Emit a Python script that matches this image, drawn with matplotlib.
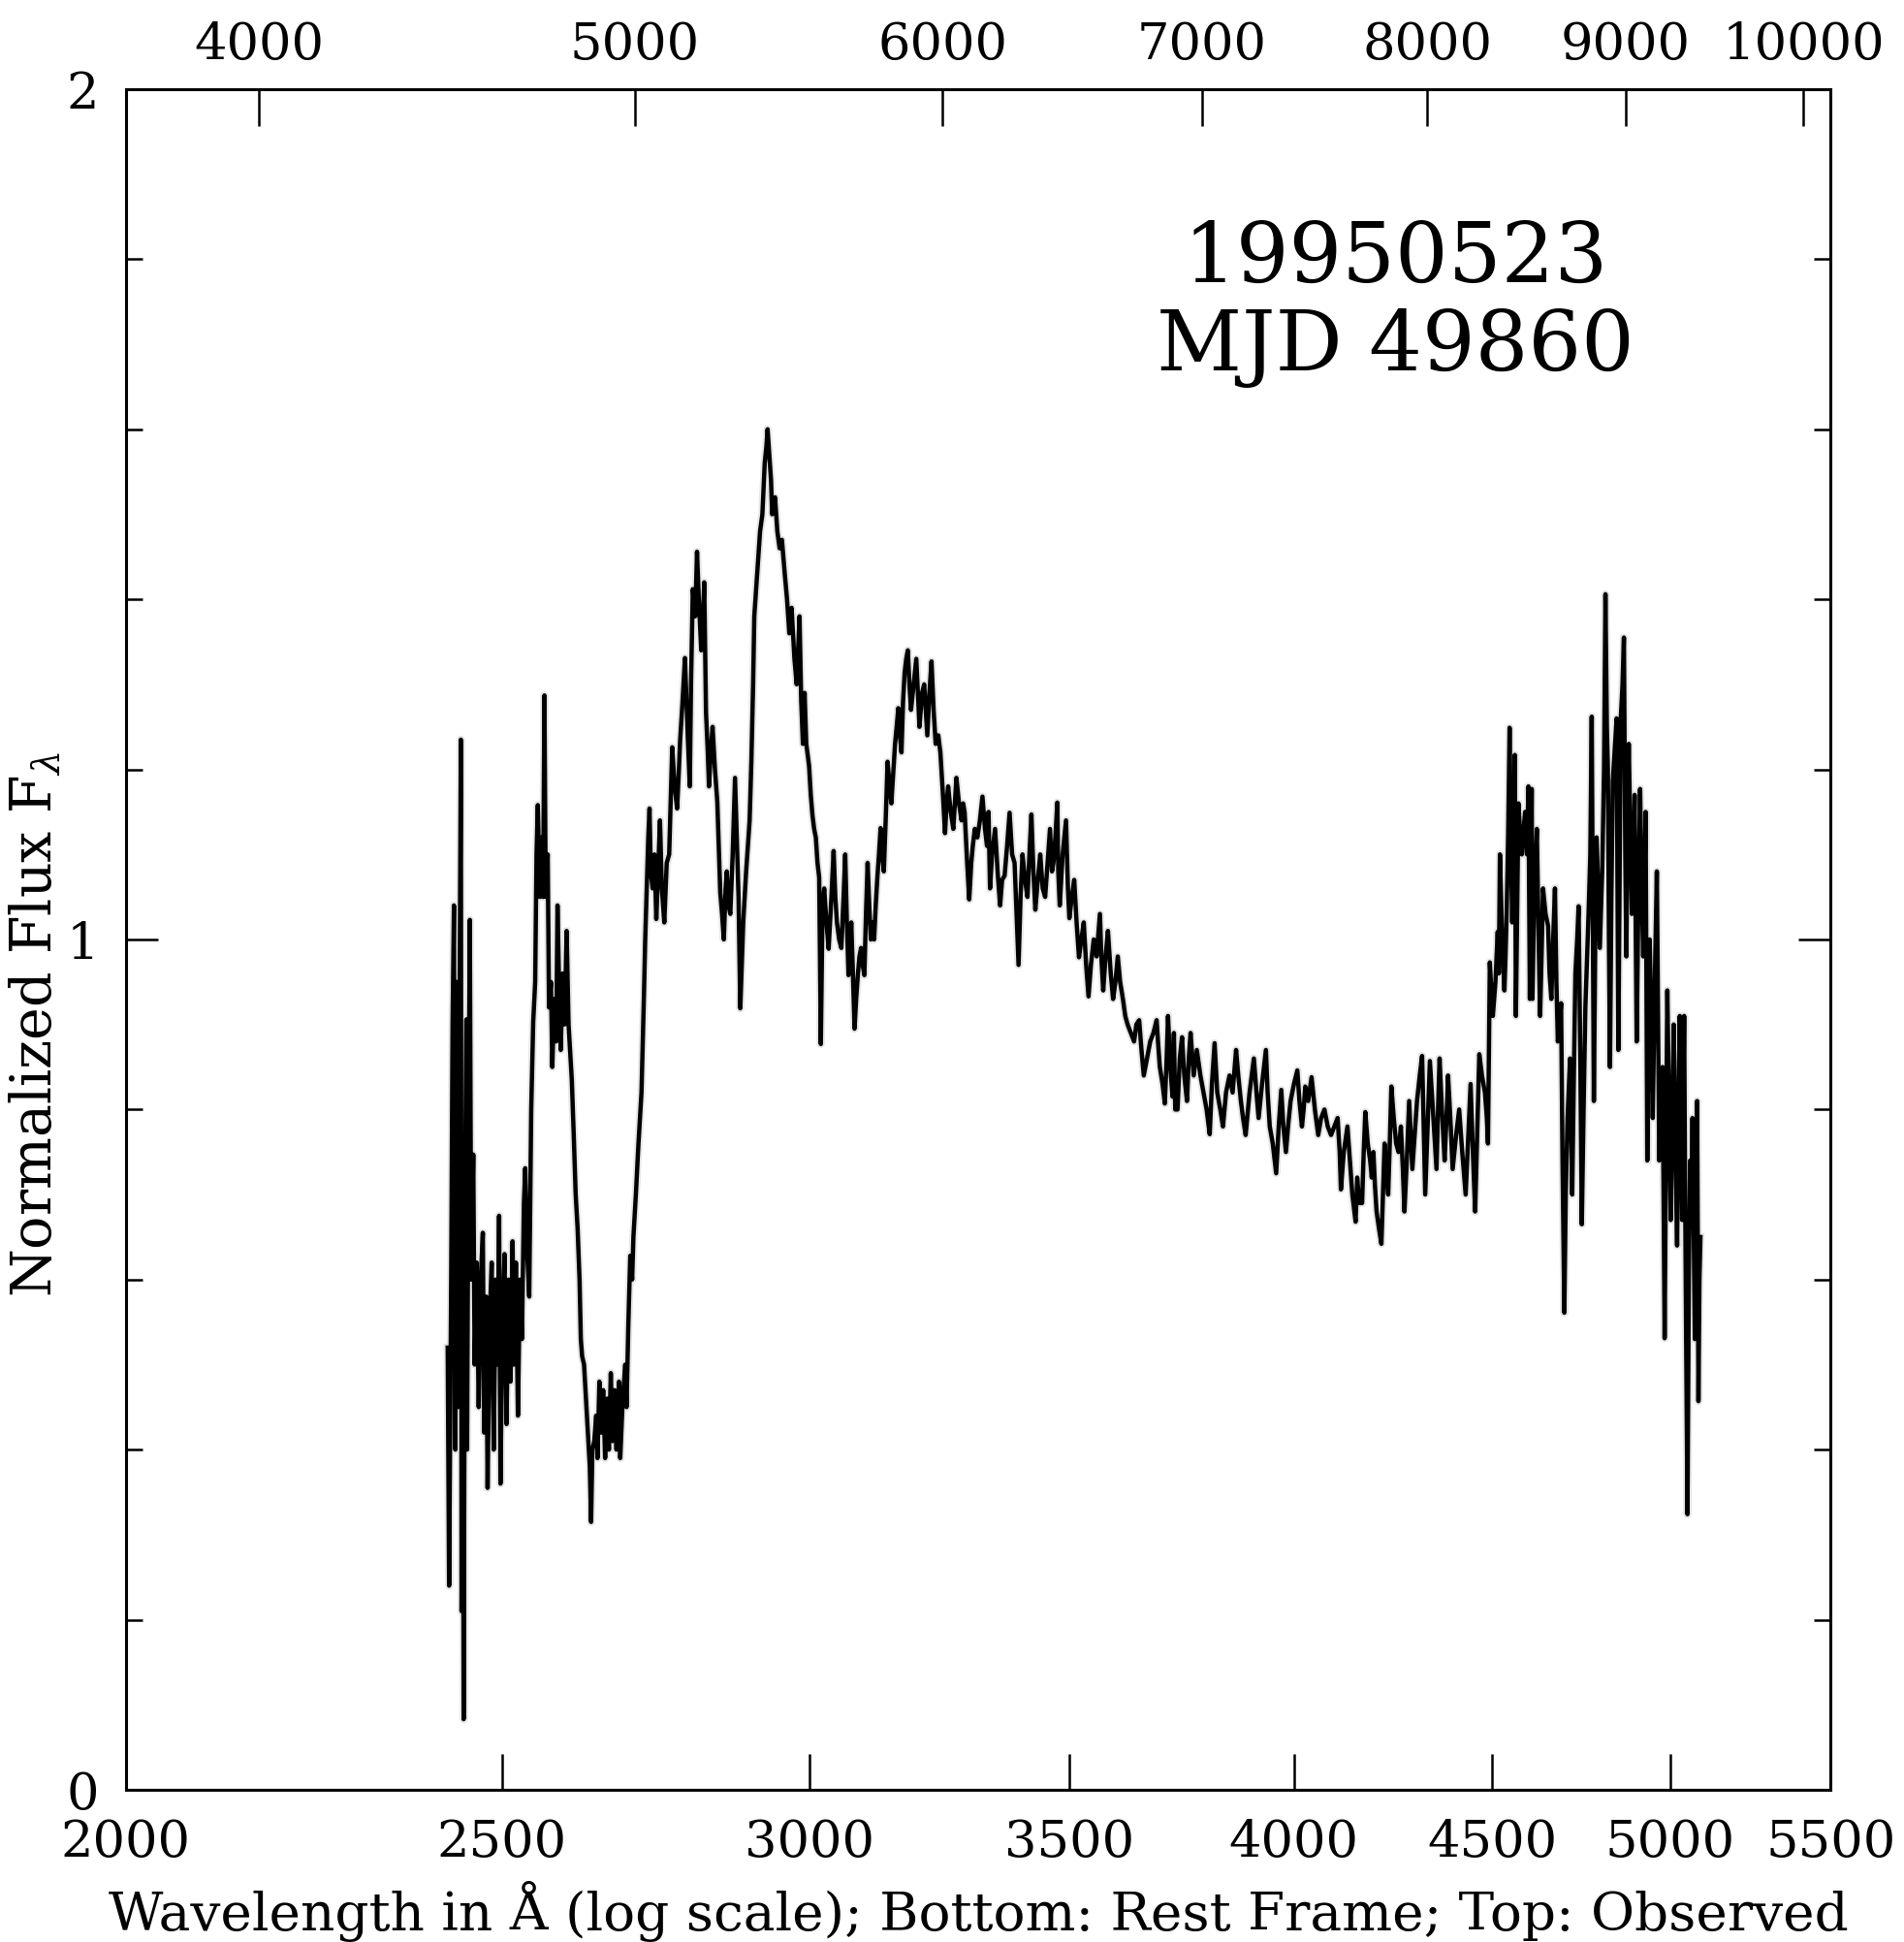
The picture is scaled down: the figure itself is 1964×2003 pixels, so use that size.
import matplotlib
matplotlib.use("Agg")
import matplotlib.pyplot as plt
from matplotlib.ticker import FixedLocator, FixedFormatter, MultipleLocator, NullLocator
import numpy as np

plt.rcParams["font.family"] = ["DejaVu Serif"]
plt.rcParams["mathtext.fontset"] = "dejavuserif"

# observed = rest * (1 + z)
z = 0.848

# rest-frame wavelength (Angstrom) and normalized flux
wave = np.array([
    2421, 2423, 2426, 2428, 2430, 2432, 2434, 2436, 2438, 2440, 2441, 2443, 2444, 2446, 2448, 2449,
    2451, 2453, 2455, 2458, 2460, 2463, 2466, 2469, 2472, 2474, 2477, 2479, 2482, 2485, 2488, 2491,
    2494, 2496, 2498, 2501, 2504, 2507, 2510, 2513, 2516, 2518, 2521, 2524, 2527, 2530, 2533, 2535,
    2538, 2541, 2544, 2547, 2550, 2552, 2554, 2557, 2560, 2562, 2564, 2566, 2569, 2571, 2574, 2576,
    2579, 2582, 2584, 2587, 2589, 2592, 2595, 2598, 2601, 2604, 2606, 2609, 2612, 2615, 2618, 2620,
    2622, 2625, 2628, 2631, 2634, 2636, 2638, 2641, 2644, 2646, 2649, 2652, 2655, 2658, 2661, 2664,
    2667, 2670, 2673, 2676, 2680, 2682,
    2686, 2690, 2692, 2695, 2698, 2701, 2703, 2707, 2711, 2716, 2720, 2722, 2724, 2727, 2729, 2731,
    2734, 2737, 2740, 2743, 2746, 2749, 2753, 2757, 2761, 2763, 2766, 2770, 2774, 2777, 2779, 2783,
    2787, 2791, 2795, 2797, 2800, 2804, 2807, 2810, 2814, 2817, 2819, 2822, 2825, 2827, 2830, 2833,
    2837, 2841, 2844, 2846, 2849, 2852, 2855, 2857, 2860, 2863, 2867, 2871, 2874, 2877, 2880, 2883,
    2885, 2890, 2896, 2899, 2902, 2904, 2910, 2914, 2918, 2922, 2925, 2927, 2930, 2933, 2935, 2940,
    2944, 2948, 2952, 2957, 2961, 2965, 2969, 2974, 2978, 2983, 2986, 2989,
    2992, 2995, 3000, 3003, 3006, 3009, 3012, 3015, 3018, 3021, 3024, 3027, 3031, 3035, 3040, 3044,
    3047, 3050, 3054, 3058, 3062, 3065, 3068, 3071, 3074, 3076, 3079, 3082, 3085, 3088, 3091, 3094,
    3097, 3100, 3103, 3106, 3109, 3112, 3115, 3118, 3121, 3124, 3127, 3130, 3133, 3136, 3140, 3143,
    3147, 3150, 3154, 3157, 3160, 3163, 3166, 3169, 3172, 3175, 3178, 3181, 3184, 3187, 3192, 3197,
    3200, 3203, 3208, 3212, 3215, 3218, 3222, 3226, 3230, 3234, 3239, 3243, 3248, 3252, 3255, 3258,
    3263, 3268, 3271, 3274, 3279, 3284, 3287, 3290, 3295, 3299, 3303, 3306, 3310, 3315, 3320, 3325,
    3330, 3334,
    3337, 3340, 3344, 3350, 3355, 3360, 3364, 3369, 3374, 3379, 3384, 3389, 3393, 3397, 3401, 3405,
    3410, 3415, 3419, 3423, 3427, 3431, 3436, 3441, 3446, 3451, 3456, 3461, 3465, 3468, 3472, 3476,
    3478, 3481, 3487, 3494, 3498, 3501, 3506, 3511, 3516, 3521, 3526, 3531, 3536, 3541, 3546, 3552,
    3558, 3565, 3568, 3572, 3577, 3582, 3588, 3593, 3598, 3603, 3608, 3614, 3619, 3624, 3631, 3638,
    3643, 3649, 3654, 3659, 3666, 3673, 3680, 3687, 3690, 3694, 3700, 3705, 3709, 3712, 3717, 3722,
    3725, 3728, 3733, 3738, 3743, 3748, 3754, 3758, 3762, 3769, 3776, 3784, 3791, 3798, 3805, 3810,
    3816, 3822, 3829, 3835, 3842, 3850, 3857, 3865, 3870, 3876, 3881, 3887, 3896, 3906, 3912, 3917,
    3925, 3934, 3938, 3943, 3950, 3958, 3964, 3970, 3975, 3981, 3986, 3992, 4000, 4008, 4013, 4019,
    4023, 4027, 4034, 4042, 4050, 4058, 4065, 4073, 4081, 4089, 4097, 4105, 4110, 4113, 4120, 4129,
    4135, 4141, 4149,
    4153, 4158, 4165, 4169, 4173, 4179, 4185, 4189, 4193, 4197, 4201, 4207, 4213, 4217, 4221, 4225,
    4230, 4234, 4238, 4244, 4250, 4256, 4262, 4267, 4271, 4277, 4283, 4287, 4291, 4297, 4303, 4310,
    4316, 4320, 4324, 4330, 4336, 4345, 4353, 4357, 4361, 4367, 4374, 4379, 4383, 4390, 4395, 4404,
    4412, 4420, 4429, 4436, 4442, 4448, 4454, 4460, 4465, 4472, 4480, 4485, 4488, 4493, 4497, 4501,
    4508, 4514, 4517, 4520, 4526, 4532, 4535, 4538, 4542, 4546, 4550, 4553, 4557, 4560, 4563, 4567,
    4570, 4575, 4579, 4584, 4588, 4593, 4597, 4601,
    4606, 4608, 4613, 4620, 4625, 4629, 4633, 4637, 4644, 4651, 4655, 4660, 4665, 4670, 4674, 4678,
    4683, 4687, 4691, 4696, 4700, 4705, 4712, 4715, 4718, 4723, 4727, 4732, 4736, 4741, 4745, 4750,
    4755, 4760, 4764, 4769, 4773, 4779, 4783, 4787, 4792, 4796, 4803, 4808, 4812, 4816, 4819, 4822,
    4825, 4829, 4833, 4838, 4844, 4849, 4853, 4856, 4861, 4865, 4869, 4872, 4876, 4879, 4884, 4888,
    4893, 4896, 4902, 4907, 4912, 4917, 4921, 4925, 4928, 4933, 4937, 4940, 4945, 4949, 4955, 4961,
    4968, 4973, 4978, 4984, 4988, 4992, 4997, 5002, 5006, 5011, 5016, 5021, 5025, 5029, 5033, 5036,
    5039, 5042, 5045, 5048, 5052, 5056, 5060, 5064, 5067, 5071, 5074, 5078, 5081, 5085, 5088, 5091,
])

flux = np.array([
    0.52, 0.24, 0.60, 0.90, 1.04, 0.40, 0.95, 0.45, 0.90, 1.235, 0.21, 0.50, 0.083, 0.70, 0.906, 0.40,
    0.75, 1.023, 0.60, 0.747, 0.50, 0.62, 0.45, 0.60, 0.655, 0.42, 0.58, 0.355, 0.55, 0.62, 0.40, 0.60,
    0.50, 0.675, 0.36, 0.55, 0.63, 0.43, 0.60, 0.48, 0.645, 0.50, 0.62, 0.44, 0.60, 0.53, 0.69, 0.731,
    0.63, 0.58, 0.80, 0.903, 0.95, 1.10, 1.158, 1.05, 1.12, 1.05, 1.287, 1.05, 1.10, 0.92, 0.95, 0.85,
    0.93, 0.88, 1.04, 0.92, 0.87, 0.96, 0.90, 1.01, 0.90, 0.86, 0.835, 0.77, 0.70, 0.66, 0.60, 0.53,
    0.51, 0.50, 0.46, 0.42, 0.38, 0.315, 0.40, 0.41, 0.44, 0.39, 0.48, 0.42, 0.47, 0.39, 0.46, 0.40,
    0.49, 0.41, 0.47, 0.40, 0.48, 0.39,
    0.46, 0.50, 0.45, 0.55, 0.628, 0.60, 0.65, 0.70, 0.758, 0.82, 0.935, 1.00, 1.049, 1.12, 1.154, 1.08,
    1.06, 1.10, 1.024, 1.08, 1.14, 1.06, 1.02, 1.09, 1.10, 1.15, 1.226, 1.18, 1.154, 1.20, 1.234, 1.28,
    1.331, 1.25, 1.18, 1.30, 1.412, 1.38, 1.456, 1.40, 1.34, 1.38, 1.42, 1.267, 1.22, 1.18, 1.22, 1.25,
    1.20, 1.162, 1.10, 1.055, 1.03, 1.00, 1.06, 1.08, 1.04, 1.03, 1.10, 1.19, 1.12, 1.05, 0.919, 0.98,
    1.02, 1.08, 1.14, 1.21, 1.30, 1.38, 1.44, 1.48, 1.50, 1.56, 1.58, 1.60, 1.57, 1.54, 1.50, 1.52,
    1.48, 1.46, 1.47, 1.43, 1.40, 1.36, 1.39, 1.33, 1.30, 1.38, 1.28, 1.23,
    1.29, 1.23, 1.204, 1.17, 1.146, 1.13, 1.12, 1.09, 1.073, 0.877, 1.04, 1.06, 1.02, 0.989, 1.05, 1.104,
    1.05, 1.02, 1.00, 0.99, 1.05, 1.10, 1.02, 0.958, 0.99, 1.02, 0.96, 0.895, 0.93, 0.958, 0.98, 0.99,
    0.97, 0.958, 1.03, 1.09, 1.04, 1.00, 1.02, 1.00, 1.04, 1.073, 1.10, 1.131, 1.10, 1.08, 1.15, 1.209,
    1.18, 1.16, 1.20, 1.23, 1.25, 1.272, 1.24, 1.22, 1.28, 1.314, 1.33, 1.34, 1.30, 1.27, 1.30, 1.33,
    1.29, 1.25, 1.29, 1.30, 1.27, 1.24, 1.29, 1.327, 1.27, 1.23, 1.24, 1.22, 1.17, 1.125, 1.16, 1.18,
    1.15, 1.13, 1.16, 1.19, 1.16, 1.14, 1.16, 1.15, 1.09, 1.047, 1.09, 1.11, 1.13, 1.12, 1.14, 1.168,
    1.13, 1.11,
    1.15, 1.06, 1.10, 1.13, 1.08, 1.04, 1.07, 1.075, 1.11, 1.149, 1.10, 1.09, 1.03, 0.970, 1.05, 1.10,
    1.07, 1.05, 1.10, 1.147, 1.08, 1.035, 1.07, 1.10, 1.06, 1.05, 1.09, 1.13, 1.08, 1.09, 1.12, 1.161,
    1.08, 1.04, 1.10, 1.14, 1.06, 1.025, 1.05, 1.07, 1.02, 0.979, 1.00, 1.02, 0.97, 0.933, 0.97, 1.00,
    0.98, 1.03, 0.98, 0.94, 0.98, 1.01, 0.96, 0.93, 0.95, 0.98, 0.95, 0.93, 0.91, 0.90, 0.89, 0.88,
    0.90, 0.905, 0.87, 0.840, 0.86, 0.88, 0.89, 0.905, 0.88, 0.85, 0.83, 0.807, 0.86, 0.91, 0.85, 0.815,
    0.89, 0.80, 0.80, 0.86, 0.885, 0.84, 0.81, 0.86, 0.89, 0.84, 0.87, 0.84, 0.82, 0.80, 0.771, 0.83,
    0.878, 0.82, 0.80, 0.78, 0.82, 0.84, 0.82, 0.87, 0.84, 0.81, 0.79, 0.77, 0.82, 0.86, 0.82, 0.79,
    0.83, 0.87, 0.82, 0.78, 0.76, 0.725, 0.78, 0.823, 0.78, 0.75, 0.78, 0.81, 0.83, 0.846, 0.81, 0.78,
    0.80, 0.827, 0.81, 0.838, 0.80, 0.77, 0.79, 0.80, 0.78, 0.77, 0.78, 0.79, 0.75, 0.706, 0.75, 0.78,
    0.74, 0.70, 0.668,
    0.72, 0.69, 0.69, 0.75, 0.797, 0.76, 0.74, 0.72, 0.75, 0.71, 0.68, 0.66, 0.642, 0.70, 0.76, 0.73,
    0.70, 0.76, 0.827, 0.79, 0.76, 0.75, 0.78, 0.73, 0.68, 0.74, 0.81, 0.77, 0.73, 0.77, 0.81, 0.84,
    0.863, 0.78, 0.70, 0.78, 0.857, 0.79, 0.73, 0.80, 0.86, 0.80, 0.74, 0.79, 0.84, 0.78, 0.73, 0.77,
    0.80, 0.75, 0.70, 0.77, 0.83, 0.75, 0.68, 0.78, 0.865, 0.84, 0.82, 0.79, 0.76, 0.973, 0.94, 0.91,
    0.95, 1.009, 0.96, 1.10, 1.00, 0.94, 0.98, 1.03, 1.12, 1.249, 1.10, 1.02, 1.10, 1.217, 0.91, 1.05,
    1.16, 1.12, 1.10, 1.13, 1.15, 1.10, 1.18, 0.93,
    1.177, 0.93, 1.05, 1.13, 1.00, 0.91, 0.98, 1.06, 1.03, 1.016, 0.96, 0.93, 1.00, 1.06, 0.95, 0.88,
    0.90, 0.925, 0.739, 0.561, 0.70, 0.79, 0.86, 0.78, 0.70, 0.85, 0.96, 1.00, 1.039, 0.85, 0.665, 0.80,
    0.92, 0.98, 1.03, 1.10, 1.262, 0.81, 1.00, 1.12, 1.05, 0.99, 1.085, 1.20, 1.406, 1.25, 1.20, 1.00,
    0.85, 1.05, 1.186, 1.22, 1.26, 0.87, 1.10, 1.26, 1.30, 1.355, 1.10, 0.98, 1.15, 1.23, 1.12, 1.03,
    1.10, 1.17, 0.88, 1.05, 1.177, 1.05, 0.98, 1.07, 1.15, 0.74, 0.90, 1.00, 0.90, 0.79, 0.95, 1.08,
    0.74, 0.80, 0.85, 0.531, 0.75, 0.94, 0.80, 0.67, 0.78, 0.90, 0.75, 0.64, 0.80, 0.91, 0.78, 0.67,
    0.80, 0.91, 0.70, 0.53, 0.324, 0.60, 0.74, 0.70, 0.79, 0.65, 0.53, 0.70, 0.81, 0.457, 0.60, 0.65,
])

rest_ticks = [2000, 2500, 3000, 3500, 4000, 4500, 5000, 5500]
obs_ticks = [4000, 5000, 6000, 7000, 8000, 9000, 10000]
flux_ticks = [0, 1, 2]

label_line1 = "19950523"
label_line2 = "MJD 49860"

fig = plt.figure(figsize=(19.65, 20.03), dpi=100)
ax = fig.add_axes([0.066, 0.0784, 0.895, 0.8757])

# faint error halo, then the spectrum
ax.plot(wave, flux, color="0.9", lw=6, zorder=1)
ax.plot(wave, flux, color="black", lw=3.2, zorder=2)

ax.set_xscale("log")
ax.set_xlim(2000, 5500)
ax.set_ylim(0, 2)

ax.xaxis.set_major_locator(FixedLocator(rest_ticks))
ax.xaxis.set_major_formatter(FixedFormatter([str(t) for t in rest_ticks]))
ax.xaxis.set_minor_locator(NullLocator())
ax.yaxis.set_major_locator(FixedLocator(flux_ticks))
ax.yaxis.set_major_formatter(FixedFormatter([str(t) for t in flux_ticks]))
ax.yaxis.set_minor_locator(MultipleLocator(0.2))

ax.tick_params(axis="x", which="major", direction="in", length=27, width=1.8,
               labelsize=38, pad=21, top=False)
ax.tick_params(axis="y", which="major", direction="in", length=24, width=1.8,
               labelsize=38, pad=20, left=True, right=True)
ax.tick_params(axis="y", which="minor", direction="in", length=12, width=1.8,
               left=True, right=True)
for s in ax.spines.values():
    s.set_linewidth(2.2)

# top axis: observed-frame wavelength
ax2 = ax.twiny()
ax2.set_xscale("log")
ax2.set_xlim(2000 * (1 + z), 5500 * (1 + z))
ax2.xaxis.set_major_locator(FixedLocator(obs_ticks))
ax2.xaxis.set_major_formatter(FixedFormatter([str(t) for t in obs_ticks]))
ax2.xaxis.set_minor_locator(NullLocator())
ax2.tick_params(axis="x", which="major", direction="in", length=27, width=1.8,
                labelsize=38, pad=14)

ax.set_xlabel("Wavelength in \u00c5 (log scale); Bottom: Rest Frame; Top: Observed",
              fontsize=39.5, labelpad=10)
ax.set_ylabel("Normalized Flux F$_\\lambda$", fontsize=41)
ax.yaxis.set_label_coords(-0.037, 0.45)

ax.text(0.745, 0.90, label_line1, transform=ax.transAxes, ha="center", va="center",
        fontsize=62)
ax.text(0.745, 0.848, label_line2, transform=ax.transAxes, ha="center", va="center",
        fontsize=62)

fig.savefig("out.png", dpi=100)
